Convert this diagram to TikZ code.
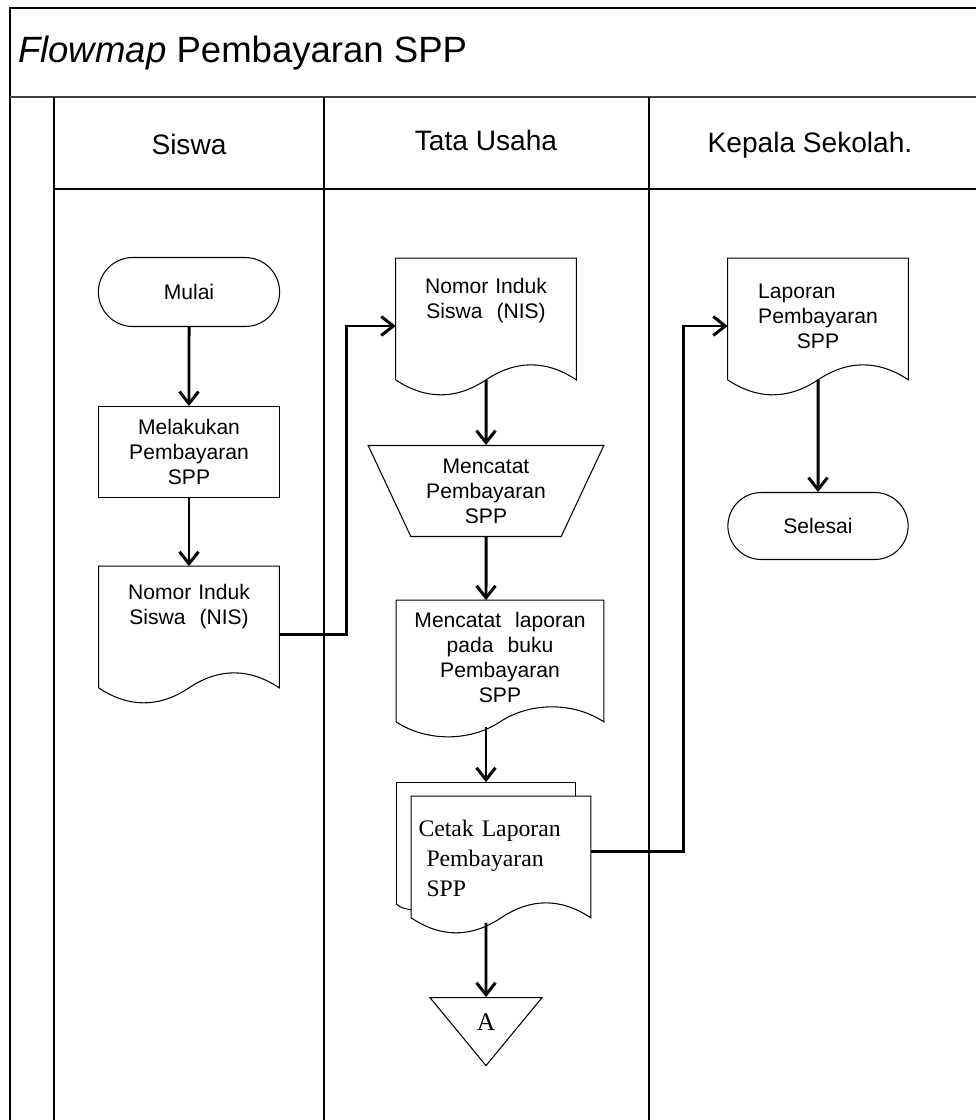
\documentclass[tikz,border=0pt]{standalone}
\usepackage{fontspec}
\setmainfont{Liberation Sans}
\newfontfamily\timesteks{Liberation Serif}
\usetikzlibrary{arrows.meta,shapes.geometric,shapes.misc,positioning}

\tikzset{
    %Define standard arrow tip
    >={Straight Barb[length=2.4mm,width=3.8mm]},
    %Define style for boxes
    terminal/.style={
           rounded rectangle,
           draw=black, line width=0.6pt,
           minimum height=1.38cm,
           minimum width=3.86cm},
    proses/.style={
           rectangle,
           draw=black, line width=0.6pt,
           minimum height=1.82cm,
           minimum width=3.62cm,
           align=center},
    dok/.style={
           rectangle,
           inner xsep=0.1cm, inner ysep=0pt,
           text width=3.4cm,
           align=center,
           text height=#1,
           text depth=2.42cm-#1},
    manual/.style={
           trapezium, shape border rotate=180,
           trapezium stretches=true,
           trapezium left angle=64, trapezium right angle=64,
           draw=black, line width=0.6pt,
           minimum height=1.82cm,
           minimum width=4.72cm,
           align=center},
    offpage/.style={
           isosceles triangle, shape border rotate=270,
           isosceles triangle stretches=true,
           draw=black, line width=0.6pt,
           minimum height=1.36cm,
           minimum width=2.24cm,
           inner sep=0pt},
    kolom/.style={font=\fontsize{16}{19}\selectfont},
    tepi/.style={line width=0.6pt},
    garis/.style={line width=0.9pt},
    % Define arrow style
    pil/.style={
           ->,
           line width=1.7pt}
}

% outline of a document symbol around a named node
\newcommand{\bentukdok}[1]{%
  \draw[tepi] (#1.north west) -- (#1.north east) -- (#1.south east)
    .. controls +(-30,-20) and +(30,-20) .. (#1.south)
    .. controls +(-30,20) and +(30,20) .. (#1.south west) -- cycle;}

\begin{document}
\begin{tikzpicture}[x=0.02cm,y=-0.02cm,font=\fontsize{12}{14.2}\selectfont]
\useasboundingbox (0,0) rectangle (976,1120);

% frame and swimlanes
\draw[garis] (976,8) -- (10,8) -- (10,1120);
\draw[line width=1.3pt, black!75] (10,97) -- (976,97);
\draw[garis] (54,97) -- (54,1120);
\draw[garis] (324,97) -- (324,1120);
\draw[garis] (649,97) -- (649,1120);
\draw[garis] (54,189) -- (976,189);

\node[anchor=west, font=\fontsize{20.8}{24}\selectfont] (judul) at (12,53) {\textit{Flowmap} Pembayaran SPP};
\node[kolom] (siswa) at (189,144) {Siswa};
\node[kolom] (tu) at (486,140) {Tata Usaha};
\node[kolom] (kepsek) at (810,145) {Kepala Sekolah.};

% Siswa
\node[terminal] (mulai) at (189,292) {Mulai};
\node[proses] (bayar) at (189,452) {Melakukan\\Pembayaran\\SPP};
\node[dok=0.66cm] (nis1) at (189,627) {Nomor Induk\\Siswa\ \ (NIS)};

% Tata Usaha
\node[dok=0.7cm] (nis2) at (486,319) {Nomor Induk\\Siswa\ \ (NIS)};
\node[manual] (catat) at (486,491) {Mencatat\\Pembayaran\\SPP};
\node[dok=0.54cm, text width=3.94cm] (buku) at (500,661) {Mencatat\ \ laporan\\pada\ \ buku\\Pembayaran\\SPP};
\node[dok=0.8cm, align=left, text width=3.3cm, inner xsep=0.14cm,
      font=\timesteks\fontsize{13.5}{17.2}\selectfont] (cetak) at (501,857)
      {Cetak Laporan\\\hspace*{0.16cm}Pembayaran\\\hspace*{0.16cm}SPP};
\node[offpage, anchor=apex, font=\timesteks\fontsize{14.5}{17}\selectfont] (hal) at (486,1067) {A};

% Kepala Sekolah
\node[dok=0.8cm] (lap) at (818,319) {Laporan\phantom{aran}\\Pembayaran\\SPP};
\node[terminal, minimum height=1.34cm, minimum width=3.84cm] (selesai) at (818,526) {Selesai};

\bentukdok{nis1}
\bentukdok{nis2}
\bentukdok{buku}
\bentukdok{cetak}
\bentukdok{lap}
% second sheet behind the printed report
\draw[tepi] ([shift={(-15,-14)}]cetak.south west) -- ([shift={(-15,-14)}]cetak.north west)
   -- ([shift={(-15,-14)}]cetak.north east) -- ++(0,14);
\draw[tepi] ([shift={(-15,-14)}]cetak.south west) .. controls +(5,4) .. ([shift={(0,-8)}]cetak.south west);

\coordinate (cetakatas) at ([yshift=0.28cm]cetak.north);

\draw[pil] (mulai) -- (bayar);
\draw[pil] (bayar) -- (nis1);
\draw[pil] ([yshift=-0.14cm]nis1.east) -- ++(67,0) |- ([yshift=-0.14cm]nis2.west);
\draw[pil] (nis2) -- (catat);
\draw[pil] (catat) -- (catat |- buku.north);
\draw[pil] ([yshift=-0.1cm]buku.south -| catat) -- (cetakatas -| catat);
\draw[pil] ([yshift=-0.1cm]cetak.south -| catat) -- (hal);
\draw[pil] ([yshift=0.12cm]cetak.east) -- ++(93,0) |- ([yshift=-0.14cm]lap.west);
\draw[pil] (lap) -- (selesai);

\end{tikzpicture}
\end{document}
